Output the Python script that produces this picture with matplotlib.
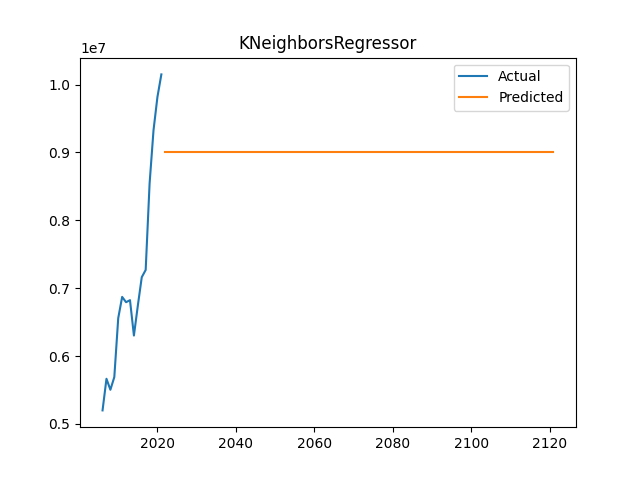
import matplotlib
matplotlib.use("Agg")
import matplotlib.pyplot as plt

actual_years = list(range(2006, 2022))
actual_values = [5.200e6, 5.666e6, 5.504e6, 5.691e6, 6.559e6, 6.872e6, 6.794e6, 6.824e6,
                 6.303e6, 6.744e6, 7.162e6, 7.269e6, 8.544e6, 9.328e6, 9.818e6, 10.150e6]
pred_years = list(range(2022, 2122))
pred_value = 9.0e6
pred_values = [pred_value] * len(pred_years)

fig, ax = plt.subplots(figsize=(6.4, 4.8), dpi=100)
ax.plot(actual_years, actual_values, label="Actual")
ax.plot(pred_years, pred_values, label="Predicted")
ax.set_title("KNeighborsRegressor")
ax.legend()
fig.savefig("out.png")
